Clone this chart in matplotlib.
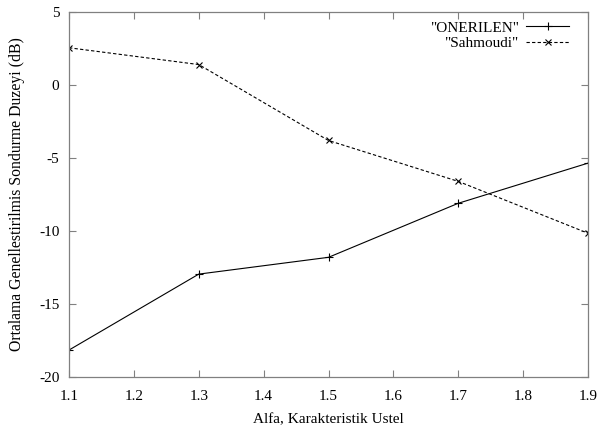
import matplotlib
matplotlib.use("Agg")
import matplotlib.pyplot as plt

alfa = [1.1, 1.3, 1.5, 1.7, 1.9]
onerilen = [-18.15, -12.95, -11.8, -8.1, -5.35]
sahmoudi = [2.55, 1.4, -3.8, -6.6, -10.15]
xticks = [1.1, 1.2, 1.3, 1.4, 1.5, 1.6, 1.7, 1.8, 1.9]
yticks = [-20, -15, -10, -5, 0, 5]

plt.rcParams['font.family'] = ['Liberation Serif', 'DejaVu Serif']
plt.rcParams['axes.unicode_minus'] = False
fig = plt.figure(figsize=(6, 4.28), dpi=100)
ax = fig.add_axes([0.115, 0.119, 0.865, 0.853])

ax.plot(alfa, onerilen, color='black', lw=0.8, marker='+', ms=6, mew=0.8, label='"ONERILEN"')
ax.plot(alfa, sahmoudi, color='black', lw=0.8, ls=(0, (3, 2)), marker='x', ms=5, mew=0.8, label='"Sahmoudi"')

ax.set_xlim(1.1, 1.9)
ax.set_ylim(-20, 5)
ax.set_xticks(xticks)
ax.set_xticklabels([f"{v:.1f}" for v in xticks])
ax.set_yticks(yticks)
for s in ax.spines.values():
    s.set_color('#808080')
    s.set_linewidth(0.9)
ax.tick_params(direction='in', top=True, right=True, length=5, color='#808080', labelsize=11)
ax.tick_params(axis='x', pad=9)
ax.tick_params(axis='y', pad=7)
ax.set_xlabel('Alfa, Karakteristik Ustel', fontsize=11, labelpad=8)
ax.set_ylabel('Ortalama Genellestirilmis Sondurme Duzeyi (dB)', fontsize=11.3, labelpad=10)
ax.legend(loc='upper right', frameon=False, markerfirst=False, fontsize=11,
          handlelength=2.8, bbox_to_anchor=(0.981, 1.0), borderaxespad=0.2,
          labelspacing=0.1, handletextpad=0.5)
fig.savefig('out.png', dpi=100)
